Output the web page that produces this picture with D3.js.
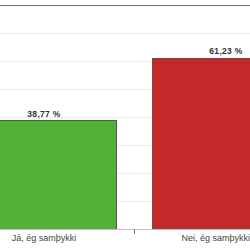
<!DOCTYPE html>
<html>
<head>
<meta charset="utf-8">
<script src="https://cdn.jsdelivr.net/npm/d3@7"></script>
<style>
  html, body { margin: 0; padding: 0; background: #fff; }
  svg { display: block; }
</style>
</head>
<body>
<div id="chart"></div>
<script>
'use strict';

var categories = ['Já, ég samþykki', 'Nei, ég samþykki'];
var values = [38.77, 61.23];
var colors = ['#52b236', '#c42828'];
var yTicks = [0, 10, 20, 30, 40, 50, 60, 70, 80];

var width = 250, height = 250;
var plot = {top: 5, bottom: 229};

var svg = d3.select('#chart').append('svg')
  .attr('width', width)
  .attr('height', height)
  .style('font-family', '"Liberation Sans", Arial, sans-serif');

var x = d3.scaleBand()
  .domain(categories)
  .range([-47, 317])
  .paddingInner(0.2)
  .paddingOuter(0.1);

var y = d3.scaleLinear()
  .domain([0, 80])
  .range([plot.bottom, plot.top]);

// gridlines
svg.append('g')
  .selectAll('line')
  .data(yTicks.slice(1, -1))
  .enter().append('line')
  .attr('x1', 0).attr('x2', width)
  .attr('y1', function(d) { return Math.round(y(d)) + 0.5; })
  .attr('y2', function(d) { return Math.round(y(d)) + 0.5; })
  .attr('stroke', '#ececec')
  .attr('stroke-width', 1);

// top border
svg.append('line')
  .attr('x1', 0).attr('x2', width)
  .attr('y1', y(80) + 0.5).attr('y2', y(80) + 0.5)
  .attr('stroke', '#6e6e6e')
  .attr('stroke-width', 1);

// bars
svg.append('g')
  .selectAll('rect')
  .data(values)
  .enter().append('rect')
  .attr('x', function(d, i) { return Math.round(x(categories[i])) - 0.5; })
  .attr('y', function(d) { return Math.round(y(d)) + 0.5; })
  .attr('width', Math.round(x.bandwidth()))
  .attr('height', function(d) { return Math.round(y(0) - y(d)); })
  .attr('fill', function(d, i) { return colors[i]; })
  .attr('stroke', '#555')
  .attr('stroke-width', 1);

// x axis line
svg.append('line')
  .attr('x1', 0).attr('x2', width)
  .attr('y1', y(0) + 0.5).attr('y2', y(0) + 0.5)
  .attr('stroke', '#c0c0c0');

// tick between categories
var mid = x(categories[1]) - x.step() * x.paddingInner() / 2;
svg.append('line')
  .attr('x1', Math.round(mid) - 0.5).attr('x2', Math.round(mid) - 0.5)
  .attr('y1', y(0)).attr('y2', y(0) + 5)
  .attr('stroke', '#777');

// data labels
svg.append('g')
  .selectAll('text')
  .data(values)
  .enter().append('text')
  .attr('x', function(d, i) { return x(categories[i]) + x.bandwidth() / 2; })
  .attr('y', function(d) { return y(d) - 3.5; })
  .attr('text-anchor', 'middle')
  .attr('font-size', '8.5px')
  .attr('font-weight', 'bold')
  .attr('letter-spacing', '0.3px')
  .attr('fill', '#333')
  .text(function(d) { return d3.format('.2f')(d).replace('.', ',') + ' %'; });

// category labels, kept inside the chart
svg.append('g')
  .selectAll('text')
  .data(categories)
  .enter().append('text')
  .attr('y', 241)
  .attr('font-size', '9px')
  .attr('fill', '#444')
  .text(function(d) { return d; })
  .each(function(d) {
    var w = this.getComputedTextLength();
    var cx = x(d) + x.bandwidth() / 2;
    var left = Math.max(0, Math.min(cx - w / 2, width - w));
    d3.select(this).attr('x', left);
  });
</script>
</body>
</html>
